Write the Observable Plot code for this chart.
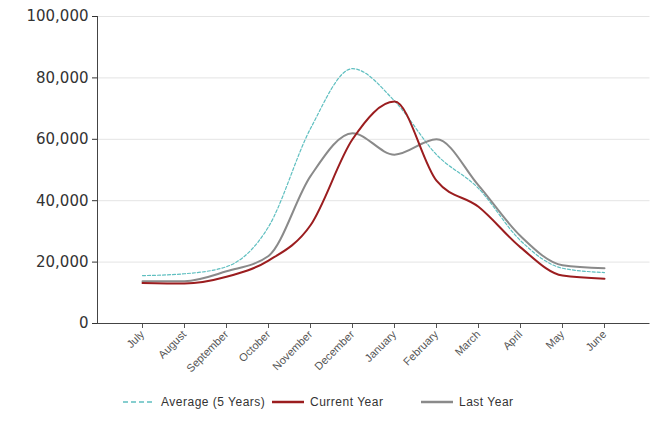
<!DOCTYPE html>
<html>
<head>
<meta charset="utf-8">
<script src="https://cdn.jsdelivr.net/npm/d3@7"></script>
<script src="https://cdn.jsdelivr.net/npm/@observablehq/plot@0.6"></script>
<style>
  html, body { margin: 0; padding: 0; background: #fff; }
  body { width: 650px; height: 438px; overflow: hidden; font-family: "Liberation Sans", Arial, sans-serif; }
  #legend { display: flex; justify-content: flex-start; align-items: center; height: 30px; font-size: 12px; letter-spacing: 0.5px; color: #333; margin-top: 2px; padding-left: 123px; }
  #legend .item { display: flex; align-items: center; gap: 6px; width: 149px; }
</style>
</head>
<body>
<div id="chart"></div>
<div id="legend"></div>
<script>
const months = ["July", "August", "September", "October", "November", "December", "January", "February", "March", "April", "May", "June"];
const average = [15600, 16200, 18500, 31500, 63500, 83000, 72500, 55000, 44000, 27000, 18000, 16600];
const current = [13200, 13000, 15200, 20500, 32000, 60000, 72300, 46500, 38000, 24800, 15600, 14600];
const last = [13800, 13800, 17000, 22000, 48000, 62000, 55000, 60000, 45000, 28500, 19000, 18000];
const yTicks = [0, 20000, 40000, 60000, 80000, 100000];

const seriesNames = ["Average (5 Years)", "Current Year", "Last Year"];
const seriesColors = ["#5fbfc0", "#9b1d1f", "#8a8a8a"];

const rows = (vals, name) => months.map((m, i) => ({month: m, value: vals[i], series: name}));
const avgRows = rows(average, seriesNames[0]);
const curRows = rows(current, seriesNames[1]);
const lastRows = rows(last, seriesNames[2]);

const chart = Plot.plot({
  width: 650,
  height: 385,
  marginTop: 16,
  marginBottom: 62,
  marginLeft: 97,
  marginRight: 0.5,
  style: {fontFamily: "'Liberation Sans', Arial, sans-serif", background: "white"},
  x: {type: "point", domain: months, padding: 1},
  y: {domain: [0, 100000]},
  marks: [
    Plot.gridY(yTicks.filter(d => d > 0), {stroke: "#e4e4e4", strokeOpacity: 1}),
    Plot.axisY(yTicks, {tickFormat: d3.format(","), fontSize: 15, fontFamily: "DejaVu Sans", tickSize: 5, tickPadding: 4, color: "#333", label: null}),
    Plot.axisX({tickRotate: -45, fontSize: 11, tickSize: 5, tickPadding: 4, color: "#555", label: null}),
    Plot.frame({anchor: "left", stroke: "#444"}),
    Plot.ruleY([0], {stroke: "#444"}),
    Plot.line(avgRows, {x: "month", y: "value", stroke: seriesColors[0], strokeWidth: 1.2, strokeDasharray: "3,2", curve: "monotone-x"}),
    Plot.line(lastRows, {x: "month", y: "value", stroke: seriesColors[2], strokeWidth: 2, curve: "monotone-x"}),
    Plot.line(curRows, {x: "month", y: "value", stroke: seriesColors[1], strokeWidth: 2, curve: "monotone-x"})
  ]
});
document.getElementById("chart").appendChild(chart);

const legend = d3.select("#legend");
seriesNames.forEach((name, i) => {
  const item = legend.append("div").attr("class", "item");
  const svg = item.append("svg").attr("width", 32).attr("height", 8);
  svg.append("line").attr("x1", 0).attr("x2", 32).attr("y1", 4).attr("y2", 4)
    .attr("stroke", seriesColors[i])
    .attr("stroke-width", i === 0 ? 1.5 : 2.5)
    .attr("stroke-dasharray", i === 0 ? "5,3" : null);
  item.append("span").text(name);
});
</script>
</body>
</html>
